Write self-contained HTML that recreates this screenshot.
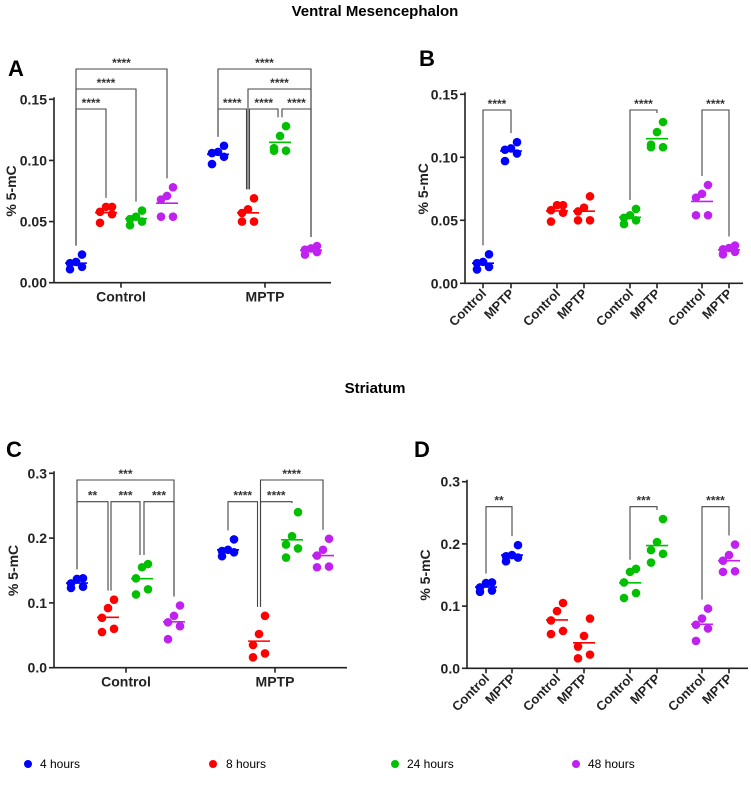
<!DOCTYPE html>
<html><head><meta charset="utf-8"><style>
body{margin:0;background:#fff;}
svg{display:block;font-family:"Liberation Sans",Arial,sans-serif;}
</style></head><body>
<svg id="fig" width="751" height="798" viewBox="0 0 751 798">
<text x="375" y="16" text-anchor="middle" font-size="15" font-weight="bold">Ventral Mesencephalon</text>
<text x="375" y="393" text-anchor="middle" font-size="15" font-weight="bold">Striatum</text>
<text x="8" y="76" font-size="22" font-weight="bold">A</text>
<text x="419" y="66" font-size="22" font-weight="bold">B</text>
<text x="6" y="457" font-size="22" font-weight="bold">C</text>
<text x="414" y="457" font-size="22" font-weight="bold">D</text>
<g font-size="12">
<circle cx="28" cy="764" r="4" fill="#0000ff"/><text x="40" y="768">4 hours</text>
<circle cx="213" cy="764" r="4" fill="#ff0000"/><text x="226" y="768">8 hours</text>
<circle cx="395" cy="764" r="4" fill="#00c000"/><text x="407" y="768">24 hours</text>
<circle cx="576" cy="764" r="4" fill="#c020f0"/><text x="588" y="768">48 hours</text>
</g>
</svg>
<script>
// Ventral mesencephalon data (groups: ctrl 4h,8h,24h,48h, MPTP 4h,8h,24h,48h)
const vmCtrl4 = [0.011,0.013,0.016,0.017,0.023];
const vmCtrl8 = [0.049,0.056,0.058,0.062,0.062];
const vmCtrl24 = [0.047,0.050,0.052,0.054,0.059];
const vmCtrl48 = [0.054,0.054,0.068,0.071,0.078];
const vmMptp4 = [0.097,0.103,0.106,0.107,0.112];
const vmMptp8 = [0.050,0.050,0.057,0.060,0.069];
const vmMptp24 = [0.108,0.108,0.110,0.120,0.128];
const vmMptp48 = [0.023,0.025,0.027,0.028,0.030];
// Striatum data
const stCtrl4 = [0.123,0.125,0.130,0.137,0.138];
const stCtrl8 = [0.055,0.060,0.077,0.092,0.105];
const stCtrl24 = [0.113,0.121,0.138,0.155,0.160];
const stCtrl48 = [0.044,0.064,0.070,0.080,0.096];
const stMptp4 = [0.172,0.178,0.180,0.182,0.198];
const stMptp8 = [0.016,0.022,0.035,0.052,0.080];
const stMptp24 = [0.170,0.184,0.190,0.203,0.240];
const stMptp48 = [0.155,0.156,0.173,0.182,0.199];
const vmTicks = ["0.00","0.05","0.10","0.15"];
const stTicks = ["0.0","0.1","0.2","0.3"];
const groupLabelsAC = ["Control","MPTP"];
const pairLabels = ["Control","MPTP"];
const colors = ["#0000ff","#ff0000","#00c000","#c020f0"];

const NS="http://www.w3.org/2000/svg";
const svg=document.getElementById('fig');
function mk(tag,attrs,parent){const e=document.createElementNS(NS,tag);for(const k in attrs)e.setAttribute(k,attrs[k]);(parent||svg).appendChild(e);return e;}
const offs=[-6,6,-6,0,6];

function panel(p){
  const g=mk('g',{});
  
  
  const ymax=parseFloat(p.ticks[p.ticks.length-1]);
  const y=v=>p.y0+(p.y1-p.y0)*v/ymax;
  const ax=mk('path',{d:`M${p.ax} ${p.y1-2}V${p.y0}H${p.xend}`,stroke:'#222','stroke-width':1.6,fill:'none'},g);
  
  
  p.ticks.forEach(t=>{
    const v=parseFloat(t);
    mk('line',{x1:p.ax-5,x2:p.ax,y1:y(v),y2:y(v),stroke:'#222','stroke-width':1.6},g);
    const tx=mk('text',{x:p.ax-7,y:y(v)+5,'text-anchor':'end','font-size':14,'font-weight':'bold',fill:'#222'},g);
    tx.textContent=t;
    
    
  });
  const yl=mk('text',{transform:`translate(${p.ylx},${(p.y0+p.y1)/2}) rotate(-90)`,'text-anchor':'middle','font-size':14,'font-weight':'bold',fill:'#222'},g);
  yl.textContent='% 5-mC';
  
  
  if(p.rot){
    p.xs.forEach((x,i)=>{
      mk('line',{x1:x,x2:x,y1:p.y0,y2:p.y0+5,stroke:'#222','stroke-width':1.6},g);
      const t=mk('text',{transform:`translate(${x+4},${p.y0+11}) rotate(-45)`,'text-anchor':'end','font-size':13,'font-weight':'bold',fill:'#222'},g);
      t.textContent=pairLabels[i%2];
      
      
    });
  } else {
    p.catX.forEach((x,i)=>{
      mk('line',{x1:x,x2:x,y1:p.y0,y2:p.y0+5,stroke:'#222','stroke-width':1.6},g);
      const t=mk('text',{x:x,y:p.y0+19,'text-anchor':'middle','font-size':14,'font-weight':'bold',fill:'#222'},g);
      t.textContent=groupLabelsAC[i];
      
      
    });
  }
  p.groups.forEach((arr,gi)=>{
    const x=p.xs[gi], c=colors[p.col[gi]];
    arr.forEach((v,i)=>{
      const d=mk('circle',{cx:x+offs[i],cy:y(v),r:4.3,fill:c},g);
      
      
    });
    const m=arr.reduce((a,b)=>a+b,0)/arr.length;
    const ml=mk('line',{x1:x-11,x2:x+11,y1:y(m),y2:y(m),stroke:c,'stroke-width':1.6},g);
    
    
  });
  p.br.forEach(b=>{
    const [a,z,ly,lab]=b;
    const xa=p.xs[a]+(b[4]||0), xz=p.xs[z]+(b[5]||0);
    const ya=y(Math.max(...p.groups[a]))-9, yz=y(Math.max(...p.groups[z]))-9;
    const bp=mk('path',{d:`M${xa} ${ya}V${ly}H${xz}V${yz}`,stroke:'#444','stroke-width':1.1,fill:'none'},g);
    
    
    const st=mk('text',{x:(xa+xz)/2,y:ly-2,'text-anchor':'middle','font-size':12,'font-weight':'bold',fill:'#333'},g);
    st.textContent=lab;
    
    
  });
}
const vmAll=[vmCtrl4,vmCtrl8,vmCtrl24,vmCtrl48,vmMptp4,vmMptp8,vmMptp24,vmMptp48];
const stAll=[stCtrl4,stCtrl8,stCtrl24,stCtrl48,stMptp4,stMptp8,stMptp24,stMptp48];
panel({name:'panel-a',ticks:vmTicks,y0:282.7,y1:99.3,ax:54,xend:331,ylx:16,
  xs:[76,106,136,167,218,248,280,311],catX:[121,265],col:[0,1,2,3,0,1,2,3],groups:vmAll,
  br:[[0,1,109,'****'],[0,2,89,'****'],[0,3,69,'****'],[4,5,109,'****',0,-1.5],[5,6,109,'****',1.5,-2],[6,7,109,'****',2,0],[5,7,89,'****'],[4,7,69,'****']]});
panel({name:'panel-b',ticks:vmTicks,y0:283.3,y1:94.3,ax:465,xend:743,ylx:428,
  xs:[483,511,557,584,630,657,702,729],rot:true,col:[0,0,1,1,2,2,3,3],
  groups:[vmCtrl4,vmMptp4,vmCtrl8,vmMptp8,vmCtrl24,vmMptp24,vmCtrl48,vmMptp48],
  br:[[0,1,110,'****'],[4,5,110,'****'],[6,7,110,'****']]});
panel({name:'panel-c',ticks:stTicks,y0:667.7,y1:473.3,ax:54,xend:347,ylx:18,
  xs:[77,108,142,174,228,259,292,323],catX:[126,275],col:[0,1,2,3,0,1,2,3],groups:stAll,
  br:[[0,3,480,'***'],[0,1,501.7,'**'],[1,2,501.7,'***',3,-2],[2,3,501.7,'***',2,0],[4,5,501.7,'****',0,-1.5],[5,6,501.7,'****',1.5,0],[5,7,480,'****',1.5,0]]});
panel({name:'panel-d',ticks:stTicks,y0:668.3,y1:481.7,ax:467,xend:748,ylx:430,
  xs:[486,512,557,584,630,657,702,729],rot:true,col:[0,0,1,1,2,2,3,3],
  groups:[stCtrl4,stMptp4,stCtrl8,stMptp8,stCtrl24,stMptp24,stCtrl48,stMptp48],
  br:[[0,1,506.7,'**'],[4,5,506.7,'***'],[6,7,506.7,'****']]});
</script>
</body></html>
